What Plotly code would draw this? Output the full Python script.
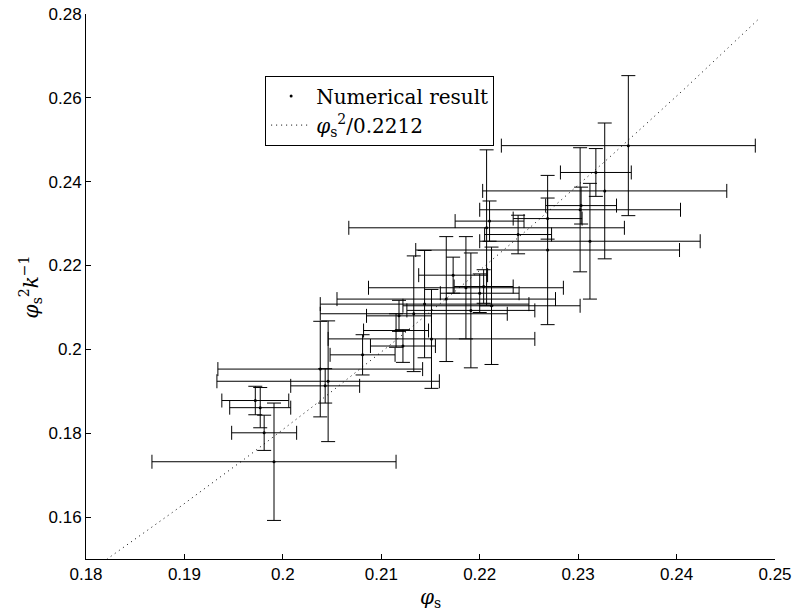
import numpy as np
import plotly.graph_objects as go

# Numerical results: phi_s, phi_s^2 k^-1, and their error half-widths
phi_s = [0.1991, 0.1981, 0.1977, 0.1972, 0.2043, 0.2038, 0.2046, 0.2081,
         0.2122, 0.2115, 0.2118, 0.2133, 0.2144, 0.2151, 0.2166, 0.2173,
         0.2186, 0.2191, 0.2200, 0.2204, 0.2212, 0.2207, 0.2210, 0.2239,
         0.2269, 0.2351, 0.2318, 0.2327, 0.2303, 0.2302, 0.2312, 0.2269]
value = [0.1732, 0.1801, 0.1861, 0.1878, 0.1913, 0.1953, 0.1924, 0.1987,
         0.2008, 0.2045, 0.2080, 0.2085, 0.2108, 0.2025, 0.2120, 0.2177,
         0.2147, 0.2093, 0.2134, 0.2150, 0.2104, 0.2290, 0.2306, 0.2274,
         0.2237, 0.2486, 0.2422, 0.2378, 0.2343, 0.2333, 0.2258, 0.2312]
x_err = [0.0124, 0.0033, 0.0031, 0.0034, 0.0035, 0.0104, 0.0113, 0.0033,
         0.0033, 0.0033, 0.0033, 0.0095, 0.0106, 0.0105, 0.0111, 0.0035,
         0.0099, 0.0065, 0.0040, 0.0030, 0.0090, 0.0140, 0.0035, 0.0034,
         0.0134, 0.0129, 0.0036, 0.0124, 0.0036, 0.0102, 0.0112, 0.0035]
y_err = [0.0140, 0.0042, 0.0048, 0.0034, 0.0041, 0.0114, 0.0144, 0.0048,
         0.0039, 0.0040, 0.0037, 0.0138, 0.0128, 0.0118, 0.0149, 0.0043,
         0.0122, 0.0137, 0.0046, 0.0040, 0.0140, 0.0186, 0.0048, 0.0046,
         0.0178, 0.0167, 0.0057, 0.0162, 0.0044, 0.0148, 0.0138, 0.0049]

fit_coef = 0.2212
fit_x_start, fit_x_end = 0.1821, 0.2485

x_ticks = [0.18, 0.19, 0.20, 0.21, 0.22, 0.23, 0.24, 0.25]
x_tick_labels = ["0.18", "0.19", "0.2", "0.21", "0.22", "0.23", "0.24", "0.25"]
y_ticks = [0.16, 0.18, 0.20, 0.22, 0.24, 0.26, 0.28]
y_tick_labels = ["0.16", "0.18", "0.2", "0.22", "0.24", "0.26", "0.28"]

fit_x = np.linspace(fit_x_start, fit_x_end, 200)
fit_y = fit_x ** 2 / fit_coef

serif = "DejaVu Serif, Liberation Serif, serif"
sans = "Liberation Sans, Arial, sans-serif"

fig = go.Figure()
fig.add_trace(go.Scatter(
    x=phi_s, y=value, mode="markers",
    name="Numerical result",
    marker=dict(color="black", size=3),
    error_x=dict(type="data", array=x_err, color="black", thickness=1, width=7),
    error_y=dict(type="data", array=y_err, color="black", thickness=1, width=7),
))
fig.add_trace(go.Scatter(
    x=fit_x, y=fit_y, mode="lines",
    name="<i>φ</i><sub>s</sub><sup>2</sup>/0.2212",
    line=dict(color="black", width=1, dash="1px,4px"),
))

fig.update_layout(
    width=795, height=614,
    margin=dict(l=86, r=20, t=14, b=55, autoexpand=False),
    paper_bgcolor="white", plot_bgcolor="white",
    showlegend=True,
    legend=dict(
        x=0.26, y=0.887, xanchor="left", yanchor="top",
        bordercolor="black", borderwidth=1, bgcolor="white",
        font=dict(family=serif, size=20, color="black"),
        tracegroupgap=0, itemwidth=40,
    ),
    xaxis=dict(
        range=[0.18, 0.25], tickvals=x_ticks, ticktext=x_tick_labels,
        ticks="inside", ticklen=5, tickcolor="black",
        showline=True, linecolor="black", linewidth=1, mirror=False,
        showgrid=False, zeroline=False, automargin=False,
        tickfont=dict(family=sans, size=17, color="black"),
    ),
    yaxis=dict(
        range=[0.15, 0.28], tickvals=y_ticks, ticktext=y_tick_labels,
        ticks="inside", ticklen=5, tickcolor="black",
        showline=True, linecolor="black", linewidth=1, mirror=False,
        showgrid=False, zeroline=False, automargin=False,
        tickfont=dict(family=sans, size=17, color="black"),
    ),
    annotations=[
        dict(text="<i>φ</i><sub>s</sub>", xref="paper", yref="paper",
             x=0.5, y=-0.071, xanchor="center", yanchor="middle", showarrow=False,
             font=dict(family=serif, size=20, color="black")),
        dict(text="<i>φ</i><sub>s</sub><sup>2</sup><i>k</i><sup>−1</sup>", xref="paper", yref="paper",
             x=-0.08, y=0.5, xanchor="center", yanchor="middle", showarrow=False, textangle=-90,
             font=dict(family=serif, size=20, color="black")),
    ],
)

fig.write_html("out.html", config={"displayModeBar": False},
               post_script="document.body.style.margin='0';document.body.style.overflow='hidden';")
